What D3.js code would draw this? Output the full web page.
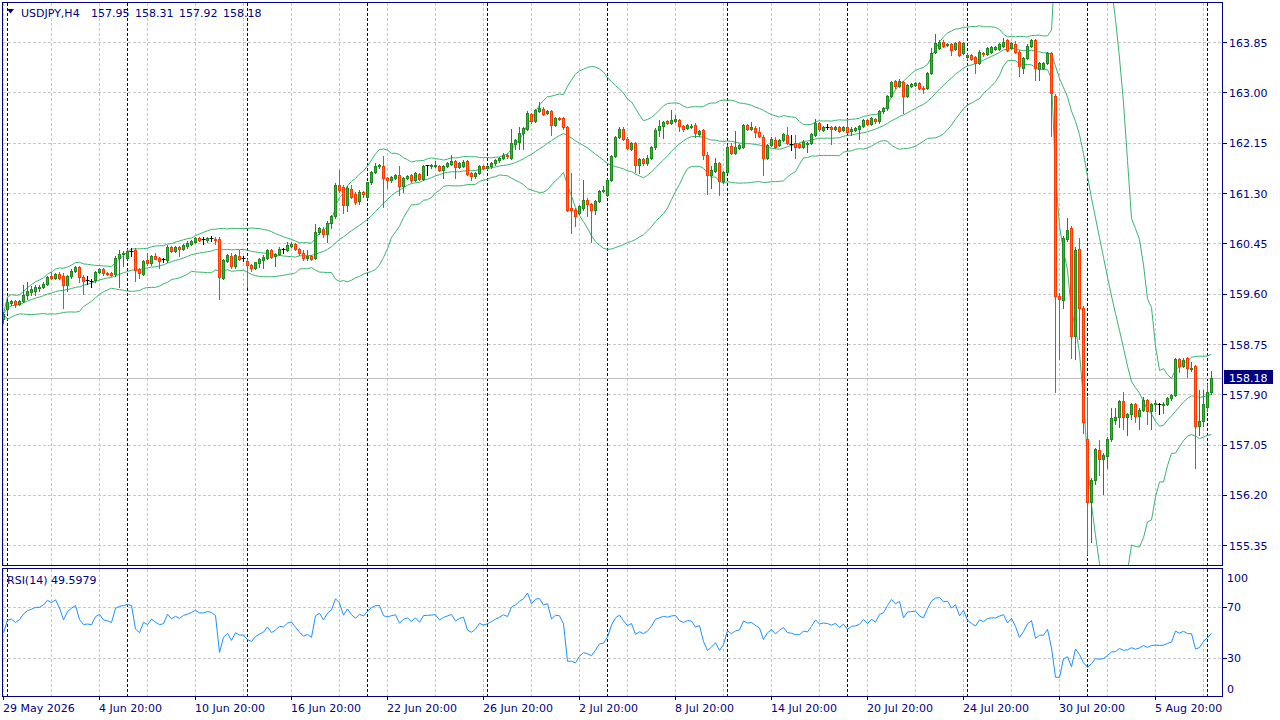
<!DOCTYPE html>
<html>
<head>
<meta charset="utf-8">
<script src="https://cdnjs.cloudflare.com/ajax/libs/d3/7.8.5/d3.min.js"></script>
<style>
  body { margin: 0; background: #fff; }
  svg { display: block; font-family: "DejaVu Sans", sans-serif; font-size: 11px; }
</style>
</head>
<body>
<svg id="chart" width="1280" height="720"></svg>
<script>
// USDJPY H4 bars, 29 May 20:00 .. 10 Aug 04:00
const opens = [
  159.18,159.35,159.45,159.48,159.44,159.49,159.58,159.63,159.66,159.70,
  159.73,159.77,159.91,159.87,159.94,159.90,159.75,159.90,159.99,160.06,
  159.89,159.83,159.82,159.84,159.97,160.02,159.96,159.95,159.94,160.22,
  160.28,160.22,160.32,160.35,160.02,159.94,160.17,160.12,160.25,160.21,
  160.18,160.17,160.40,160.33,160.39,160.36,160.41,160.45,160.48,160.55,
  160.52,160.51,160.54,160.54,160.54,159.88,160.16,160.24,160.08,160.25,
  160.20,160.16,160.09,160.04,160.13,160.18,160.22,160.34,160.24,160.28,
  160.35,160.35,160.42,160.45,160.37,160.30,160.22,160.25,160.21,160.65,
  160.70,160.61,160.81,160.92,161.44,161.41,161.11,161.38,161.30,161.17,
  161.32,161.25,161.49,161.67,161.77,161.77,161.56,161.53,161.57,161.62,
  161.43,161.57,161.61,161.53,161.63,161.55,161.77,161.76,161.77,161.77,
  161.70,161.77,161.80,161.85,161.75,161.77,161.85,161.64,161.59,161.65,
  161.77,161.74,161.76,161.81,161.86,161.90,161.96,161.90,162.14,162.18,
  162.32,162.40,162.65,162.53,162.70,162.73,162.67,162.70,162.46,162.57,
  162.57,162.42,161.05,161.03,160.98,161.05,161.19,161.12,161.03,161.17,
  161.34,161.28,161.53,161.94,162.26,162.40,162.23,162.06,162.15,161.78,
  161.88,161.81,161.90,162.08,162.38,162.45,162.53,162.49,162.53,162.54,
  162.44,162.41,162.43,162.46,162.30,162.37,161.95,161.62,161.68,161.81,
  161.51,161.66,162.11,161.99,162.07,162.09,162.46,162.40,162.41,162.34,
  162.26,161.91,162.12,162.20,162.12,162.21,162.29,162.13,162.15,162.13,
  162.09,162.13,162.15,162.29,162.49,162.38,162.42,162.42,162.40,162.43,
  162.37,162.42,162.36,162.38,162.39,162.45,162.54,162.48,162.56,162.52,
  162.69,162.74,162.95,163.20,163.12,163.18,162.95,163.12,163.14,163.17,
  163.09,163.08,163.34,163.70,163.76,163.87,163.81,163.83,163.74,163.86,
  163.68,163.61,163.64,163.61,163.51,163.68,163.66,163.70,163.74,163.75,
  163.80,163.90,163.76,163.82,163.70,163.42,163.59,163.80,163.90,163.40,
  163.43,163.51,163.67,162.95,159.57,159.51,160.54,160.72,158.90,160.37,
  159.36,157.16,156.09,156.46,156.96,156.81,156.86,157.16,157.48,157.53,
  157.80,157.53,157.58,157.74,157.55,157.65,157.81,157.62,157.74,157.74,
  157.72,157.75,157.84,157.90,158.50,158.39,158.52,158.33,158.38,157.38,
  157.45,157.70,157.95
];
const highs = [
  159.30,159.49,159.51,159.50,159.51,159.76,159.80,159.74,159.76,159.76,
  159.80,159.91,159.97,159.96,159.97,159.95,159.93,160.02,160.08,160.08,
  159.92,159.90,159.86,160.00,160.05,160.04,159.98,159.97,160.24,160.35,
  160.33,160.36,160.38,160.38,160.04,160.18,160.29,160.27,160.29,160.23,
  160.21,160.43,160.42,160.41,160.41,160.45,160.50,160.52,160.57,160.57,
  160.56,160.57,160.59,160.56,160.56,160.20,160.28,160.30,160.28,160.34,
  160.24,160.19,160.11,160.15,160.21,160.27,160.36,160.36,160.30,160.39,
  160.38,160.49,160.49,160.47,160.38,160.34,160.34,160.27,160.79,160.74,
  160.73,160.83,160.94,161.48,161.70,161.45,161.42,161.45,161.32,161.36,
  161.35,161.50,161.69,161.81,161.80,161.94,161.58,161.60,161.63,161.76,
  161.58,161.62,161.63,161.66,161.65,161.78,161.79,161.80,161.85,161.79,
  161.79,161.83,161.95,161.87,161.83,161.86,161.87,161.66,161.67,161.79,
  161.79,161.79,161.83,161.88,161.92,161.98,161.98,162.40,162.23,162.43,
  162.43,162.69,162.67,162.73,162.84,162.76,162.72,162.72,162.59,162.60,
  162.59,162.44,161.64,161.06,161.11,161.53,161.22,161.14,161.19,161.36,
  161.42,161.55,161.96,162.28,162.42,162.42,162.25,162.18,162.17,161.90,
  161.90,161.96,162.10,162.41,162.54,162.53,162.55,162.71,162.63,162.56,
  162.46,162.48,162.47,162.49,162.38,162.39,162.00,161.76,161.90,161.83,
  161.68,162.12,162.15,162.36,162.14,162.48,162.48,162.51,162.44,162.42,
  162.29,162.14,162.25,162.26,162.23,162.32,162.42,162.29,162.29,162.15,
  162.20,162.18,162.32,162.56,162.51,162.45,162.47,162.44,162.45,162.45,
  162.45,162.56,162.42,162.43,162.46,162.56,162.56,162.59,162.58,162.72,
  162.76,162.97,163.20,163.22,163.23,163.20,163.16,163.17,163.19,163.19,
  163.11,163.36,163.76,164.00,163.89,163.89,163.85,163.85,163.87,163.88,
  163.87,163.67,163.66,163.63,163.72,163.70,163.78,163.80,163.80,163.85,
  163.93,163.92,163.87,163.88,163.72,163.61,163.82,163.92,163.92,163.53,
  163.53,163.70,163.70,162.98,159.62,160.58,160.88,160.75,160.40,160.55,
  159.40,157.86,156.50,157.00,157.14,156.92,157.18,157.68,157.68,157.82,
  157.95,157.60,157.76,157.76,157.67,157.86,157.83,157.76,157.81,157.76,
  157.77,157.86,157.92,158.53,158.52,158.53,158.54,158.45,158.40,157.98,
  157.98,158.08,158.31
];
const lows = [
  159.12,159.29,159.42,159.39,159.42,159.46,159.52,159.58,159.59,159.66,
  159.71,159.75,159.85,159.85,159.85,159.37,159.65,159.88,159.97,159.80,
  159.60,159.78,159.73,159.80,159.95,159.93,159.92,159.90,159.90,159.72,
  160.08,160.20,160.25,159.83,159.88,159.92,160.09,160.10,160.19,160.04,
  160.14,160.15,160.31,160.31,160.24,160.34,160.38,160.43,160.46,160.50,
  160.44,160.49,160.50,160.45,159.52,159.85,160.14,160.05,160.05,160.18,
  160.16,159.72,160.00,160.02,160.06,160.04,160.20,160.21,160.08,160.26,
  160.30,160.33,160.40,160.35,160.26,160.18,160.17,160.18,160.19,160.62,
  160.56,160.49,160.72,160.88,161.33,160.97,161.00,161.22,161.12,161.13,
  161.24,161.22,161.47,161.65,161.74,161.08,161.39,161.50,161.55,161.27,
  161.33,161.55,161.50,161.51,161.53,161.53,161.61,161.74,161.75,161.68,
  161.56,161.75,161.78,161.56,161.73,161.75,161.61,161.53,161.57,161.63,
  161.72,161.72,161.74,161.79,161.84,161.88,161.91,161.88,162.06,162.06,
  162.05,162.37,162.50,162.51,162.68,162.63,162.64,162.29,162.44,162.54,
  162.40,161.01,160.63,160.75,160.95,161.03,160.92,160.49,160.96,161.15,
  161.32,161.26,161.51,161.92,162.24,162.21,162.05,162.04,161.67,161.64,
  161.79,161.79,161.88,162.06,162.28,162.24,162.47,162.47,162.51,162.35,
  162.35,162.39,162.41,162.26,162.28,161.88,161.29,161.40,161.66,161.28,
  161.48,161.64,161.97,161.97,162.05,162.07,162.38,162.38,162.25,162.25,
  161.62,161.89,162.10,162.07,162.10,162.19,162.13,162.04,161.90,162.07,
  162.07,162.01,162.13,162.27,162.35,162.36,162.39,162.13,162.38,162.34,
  162.35,162.32,162.29,162.36,162.22,162.43,162.46,162.46,162.50,162.50,
  162.67,162.72,162.93,163.08,163.10,162.66,162.93,163.10,163.12,163.07,
  163.00,163.06,163.32,163.68,163.74,163.78,163.79,163.65,163.72,163.63,
  163.66,163.58,163.55,163.34,163.49,163.63,163.64,163.68,163.72,163.73,
  163.78,163.71,163.74,163.68,163.28,163.34,163.57,163.78,163.22,163.22,
  163.41,163.49,162.28,157.95,158.50,159.36,160.50,158.53,158.50,158.84,
  157.25,155.21,155.42,156.40,156.55,156.22,156.66,157.12,157.40,157.35,
  157.32,157.22,157.49,157.44,157.32,157.63,157.41,157.32,157.62,157.57,
  157.60,157.73,157.82,157.88,158.29,158.37,158.20,158.31,156.66,157.22,
  157.38,157.62,157.92
];
const closes = [
  159.27,159.46,159.48,159.44,159.49,159.59,159.66,159.69,159.73,159.73,
  159.78,159.89,159.87,159.94,159.87,159.75,159.91,159.99,160.06,159.89,
  159.82,159.83,159.82,159.97,160.02,159.95,159.94,159.92,160.22,160.28,
  160.30,160.33,160.32,160.01,159.95,160.16,160.12,160.25,160.20,160.16,
  160.18,160.40,160.33,160.39,160.36,160.43,160.46,160.50,160.55,160.52,
  160.52,160.55,160.54,160.51,159.89,160.17,160.26,160.08,160.26,160.20,
  160.20,160.09,160.04,160.14,160.19,160.23,160.34,160.23,160.28,160.36,
  160.35,160.43,160.45,160.37,160.29,160.22,160.25,160.20,160.65,160.72,
  160.61,160.81,160.92,161.44,161.36,161.10,161.39,161.25,161.16,161.33,
  161.29,161.49,161.67,161.77,161.78,161.56,161.53,161.58,161.61,161.43,
  161.56,161.60,161.53,161.64,161.55,161.76,161.77,161.78,161.79,161.70,
  161.77,161.81,161.85,161.75,161.81,161.84,161.63,161.59,161.65,161.77,
  161.74,161.77,161.81,161.86,161.90,161.95,161.93,162.15,162.21,162.32,
  162.41,162.66,162.52,162.71,162.74,162.65,162.70,162.46,162.57,162.56,
  162.42,161.03,161.03,160.92,161.09,161.19,161.13,161.03,161.17,161.34,
  161.36,161.53,161.94,162.26,162.40,162.23,162.07,162.16,161.78,161.88,
  161.81,161.90,162.08,162.38,162.45,162.51,162.49,162.54,162.56,162.44,
  162.40,162.46,162.45,162.32,162.36,161.95,161.62,161.70,161.81,161.51,
  161.66,162.09,161.99,162.09,162.12,162.46,162.40,162.42,162.34,162.27,
  161.91,162.12,162.23,162.09,162.21,162.30,162.15,162.13,162.09,162.09,
  162.18,162.16,162.30,162.49,162.40,162.43,162.42,162.39,162.43,162.36,
  162.43,162.34,162.40,162.41,162.44,162.54,162.48,162.57,162.53,162.70,
  162.74,162.95,163.18,163.12,163.21,162.95,163.14,163.15,163.17,163.09,
  163.06,163.34,163.68,163.84,163.87,163.80,163.83,163.72,163.85,163.65,
  163.85,163.64,163.57,163.51,163.70,163.66,163.76,163.78,163.78,163.83,
  163.87,163.73,163.85,163.70,163.45,163.59,163.80,163.90,163.42,163.51,
  163.51,163.68,163.00,159.57,159.52,160.55,160.68,158.90,160.35,159.36,
  157.44,156.09,156.46,156.98,156.81,156.89,157.16,157.50,157.53,157.80,
  157.53,157.58,157.74,157.55,157.65,157.81,157.62,157.74,157.76,157.74,
  157.75,157.84,157.90,158.50,158.38,158.49,158.36,158.36,157.38,157.45,
  157.75,157.94,158.18
];

// one label every 24 bars, starting at bar 0
const timeLabels = ["29 May 2026", "4 Jun 20:00", "10 Jun 20:00", "16 Jun 20:00", "22 Jun 20:00",
  "26 Jun 20:00", "2 Jul 20:00", "8 Jul 20:00", "14 Jul 20:00", "20 Jul 20:00",
  "24 Jul 20:00", "30 Jul 20:00", "5 Aug 20:00"];
const priceTicks = [163.85, 163.00, 162.15, 161.30, 160.45, 159.60, 158.75, 157.90, 157.05, 156.20, 155.35];
const rsiTicks = [100, 70, 30, 0];
const rsiGrid = [70, 30];
const symbol = "USDJPY,H4";
const rsiText = "RSI(14) 49.5979";
const bbPeriod = 20, bbDev = 2, rsiPeriod = 14;
const rsiSeed = { gain: 0.03, loss: 0.03 };  // averages carried from bars before the window

const navy = "#000080";
const gridColor = "#c8c8c8";

const svg = d3.select("#chart");

// panels
const main = { left: 2, right: 1222, top: 2, bottom: 565 };
const sub = { left: 2, right: 1222, top: 568, bottom: 696 };

const x = d3.scaleLinear().domain([0, closes.length - 1]).range([3.5, 3.5 + 4 * (closes.length - 1)]);
const y = d3.scaleLinear().domain([155.35, 163.85]).range([545.7, 42.7]);
const yr = d3.scaleLinear().domain([0, 100]).range([696.5, 569]);

const bars = closes.map((c, i) => ({ i, o: opens[i], h: highs[i], l: lows[i], c }));

// Bollinger bands (20, 2)
const bands = closes.map((c, i) => {
    let win = closes.slice(Math.max(0, i - bbPeriod + 1), i + 1);
    let mean = d3.mean(win);
    let sd = Math.sqrt(d3.mean(win, v => (v - mean) ** 2));
    return { i, mid: mean, up: mean + bbDev * sd, lo: mean - bbDev * sd };
});

// RSI (14), Wilder smoothing
let ag = rsiSeed.gain, al = rsiSeed.loss;
const rsi = closes.map((c, i) => {
    if (i > 0) {
        let d = c - closes[i - 1];
        ag = (ag * (rsiPeriod - 1) + Math.max(d, 0)) / rsiPeriod;
        al = (al * (rsiPeriod - 1) + Math.max(-d, 0)) / rsiPeriod;
    }
    return { i, v: 100 - 100 / (1 + ag / al) };
});

const defs = svg.append("defs");
defs.append("clipPath").attr("id", "clipMain").append("rect")
    .attr("x", main.left + 1).attr("y", main.top + 1)
    .attr("width", main.right - main.left - 1).attr("height", main.bottom - main.top - 1);
defs.append("clipPath").attr("id", "clipSub").append("rect")
    .attr("x", sub.left + 1).attr("y", sub.top + 1)
    .attr("width", sub.right - sub.left - 1).attr("height", sub.bottom - sub.top - 1);

const crisp = v => Math.round(v - 0.5) + 0.5;

// grid
const gridBars = d3.range(0, closes.length, 12);
const sepBars = d3.range(1, closes.length, 30);
[main, sub].forEach(p => {
    svg.append("g").selectAll("line").data(gridBars).enter().append("line")
        .attr("x1", d => x(d)).attr("x2", d => x(d))
        .attr("y1", p.top + 1).attr("y2", p.bottom)
        .attr("stroke", gridColor).attr("stroke-dasharray", "3,2");
});
svg.append("g").selectAll("line").data(priceTicks).enter().append("line")
    .attr("x1", main.left + 1).attr("x2", main.right)
    .attr("y1", d => crisp(y(d))).attr("y2", d => crisp(y(d)))
    .attr("stroke", gridColor).attr("stroke-dasharray", "3,2");
svg.append("g").selectAll("line").data(rsiGrid).enter().append("line")
    .attr("x1", sub.left + 1).attr("x2", sub.right)
    .attr("y1", d => crisp(yr(d))).attr("y2", d => crisp(yr(d)))
    .attr("stroke", gridColor).attr("stroke-dasharray", "3,2");

// week separators
[main, sub].forEach(p => {
    svg.append("g").selectAll("line").data(sepBars).enter().append("line")
        .attr("x1", d => x(d)).attr("x2", d => x(d))
        .attr("y1", p.top + 1).attr("y2", p.bottom)
        .attr("stroke", navy).attr("stroke-dasharray", "3,2");
});

// last price line
const last = bars[bars.length - 1];
svg.append("line")
    .attr("x1", main.left + 1).attr("x2", main.right)
    .attr("y1", crisp(y(last.c))).attr("y2", crisp(y(last.c)))
    .attr("stroke", "#c0c0c0");

// bands
const gMain = svg.append("g").attr("clip-path", "url(#clipMain)");
["up", "mid", "lo"].forEach(k => {
    gMain.append("path")
        .datum(bands)
        .attr("fill", "none")
        .attr("stroke", "#3cb371")
        .attr("stroke-width", 1)
        .attr("d", d3.line().x(d => x(d.i)).y(d => y(d[k])));
});

// candles
const kind = d => Math.abs(d.c - d.o) < 0.005 ? "doji" : (d.c > d.o ? "bull" : "bear");
const edge = { bull: "#1f8a1f", bear: "#ff3a00", doji: "#000000" };
const fill = { bull: "#38b038", bear: "#ff7a10", doji: "#000000" };

const candles = gMain.append("g").selectAll("g").data(bars).enter().append("g");
candles.append("line")
    .attr("x1", d => x(d.i)).attr("x2", d => x(d.i))
    .attr("y1", d => Math.round(y(d.h))).attr("y2", d => Math.round(y(d.l)) + 1)
    .attr("stroke", d => edge[kind(d)]);
candles.filter(d => kind(d) !== "doji").append("rect")
    .attr("x", d => x(d.i) - 1)
    .attr("width", 2)
    .attr("y", d => Math.round(y(Math.max(d.o, d.c))) + 0.5)
    .attr("height", d => Math.max(0, Math.round(y(Math.min(d.o, d.c))) - Math.round(y(Math.max(d.o, d.c)))))
    .attr("fill", d => fill[kind(d)])
    .attr("stroke", d => edge[kind(d)]);
candles.filter(d => kind(d) === "doji").append("line")
    .attr("x1", d => x(d.i) - 2).attr("x2", d => x(d.i) + 2)
    .attr("y1", d => crisp(y(d.c))).attr("y2", d => crisp(y(d.c)))
    .attr("stroke", "#000");

// RSI line
svg.append("g").attr("clip-path", "url(#clipSub)").append("path")
    .datum(rsi)
    .attr("fill", "none")
    .attr("stroke", "#1e90ff")
    .attr("stroke-width", 1)
    .attr("d", d3.line().x(d => x(d.i)).y(d => yr(d.v)));

// panel borders
[main, sub].forEach(p => {
    svg.append("rect")
        .attr("x", p.left + 0.5).attr("y", p.top + 0.5)
        .attr("width", p.right - p.left).attr("height", p.bottom - p.top)
        .attr("fill", "none").attr("stroke", navy);
});

// price axis
const pAxis = svg.append("g").selectAll("g").data(priceTicks).enter().append("g");
pAxis.append("line")
    .attr("x1", main.right + 1).attr("x2", main.right + 5)
    .attr("y1", d => crisp(y(d))).attr("y2", d => crisp(y(d)))
    .attr("stroke", navy);
pAxis.append("text")
    .attr("x", 1229).attr("y", d => y(d) + 4)
    .attr("fill", navy)
    .text(d => d.toFixed(2));

// RSI axis
const rAxis = svg.append("g").selectAll("g").data(rsiTicks).enter().append("g");
rAxis.filter(d => d > 0 && d < 100).append("line")
    .attr("x1", sub.right + 1).attr("x2", sub.right + 5)
    .attr("y1", d => crisp(yr(d))).attr("y2", d => crisp(yr(d)))
    .attr("stroke", navy);
rAxis.append("text")
    .attr("x", 1227)
    .attr("y", d => d === 100 ? yr(d) + 12.5 : d === 0 ? yr(d) - 3.5 : yr(d) + 4)
    .attr("fill", navy)
    .text(d => d);

// last price tag
svg.append("rect")
    .attr("x", 1224).attr("y", Math.round(y(last.c)) - 8)
    .attr("width", 49).attr("height", 14)
    .attr("fill", navy);
svg.append("text")
    .attr("x", 1229).attr("y", y(last.c) + 4)
    .attr("fill", "#fff")
    .text(last.c.toFixed(2));

// time axis
const tAxis = svg.append("g").selectAll("g").data(timeLabels).enter().append("g");
tAxis.append("line")
    .attr("x1", (d, k) => crisp(x(k * 24))).attr("x2", (d, k) => crisp(x(k * 24)))
    .attr("y1", sub.bottom + 1).attr("y2", sub.bottom + 4)
    .attr("stroke", navy);
tAxis.append("text")
    .attr("x", (d, k) => x(k * 24) - 0.5).attr("y", 712)
    .attr("fill", navy)
    .text(d => d);

// headers
svg.append("path")
    .attr("d", "M7,9 L14,9 L10.5,13.5 Z")
    .attr("fill", navy);
const head = svg.append("text")
    .attr("x", 21).attr("y", 17)
    .attr("fill", navy);
head.append("tspan").text(symbol);
[last.o, last.h, last.l, last.c].forEach((v, k) => {
    head.append("tspan")
        .attr("x", 91 + k * 44)
        .text(v.toFixed(2));
});
svg.append("text")
    .attr("x", 7).attr("y", 584)
    .attr("fill", navy)
    .text(rsiText);
</script>
</body>
</html>
